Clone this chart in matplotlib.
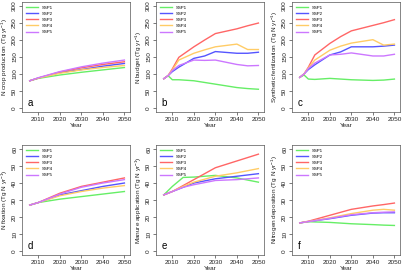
import matplotlib
matplotlib.use("Agg")
import matplotlib.pyplot as plt

plt.rcParams['font.family'] = ['Liberation Sans', 'DejaVu Sans']
plt.rcParams['mathtext.default'] = 'regular'

scenarios = ["SSP1", "SSP2", "SSP3", "SSP4", "SSP5"]
colors = ["#66EE66", "#5555FF", "#FF6666", "#FFCC66", "#CC77FF"]

# Panel a: N crop production
years_a = [2006, 2010, 2020, 2030, 2040, 2050]
crop_ssp1 = [80, 87, 97, 105, 112, 119]
crop_ssp2 = [80, 88, 104, 113, 123, 131]
crop_ssp3 = [80, 88, 106, 118, 128, 136]
crop_ssp4 = [80, 88, 102, 112, 119, 125]
crop_ssp5 = [80, 89, 107, 121, 132, 141]

# Panel b: N budget
years_b = [2006, 2008, 2010, 2013, 2020, 2025, 2030, 2040, 2045, 2050]
budget_ssp1 = [86, 95, 83, 83, 80, 75, 70, 60, 57, 55]
budget_ssp2 = [86, 95, 107, 120, 146, 153, 166, 161, 161, 164]
budget_ssp3 = [86, 95, 115, 149, 180, 200, 219, 233, 242, 250]
budget_ssp4 = [86, 95, 112, 141, 161, 171, 180, 188, 172, 172]
budget_ssp5 = [86, 95, 110, 125, 141, 140, 141, 128, 124, 125]

# Panel c: Synthetic fertilization
years_c = [2006, 2008, 2010, 2013, 2020, 2025, 2030, 2040, 2045, 2050]
fert_ssp1 = [90, 97, 85, 84, 87, 85, 83, 81, 82, 85]
fert_ssp2 = [90, 100, 113, 127, 156, 165, 180, 180, 182, 185]
fert_ssp3 = [90, 100, 120, 156, 190, 210, 227, 243, 251, 260]
fert_ssp4 = [90, 100, 118, 141, 170, 182, 191, 201, 185, 188]
fert_ssp5 = [90, 100, 116, 132, 156, 158, 162, 153, 153, 158]

# Panel d: N fixation
years_d = [2006, 2010, 2020, 2030, 2040, 2050]
fix_ssp1 = [27, 28.5, 30.5, 32, 33.5, 35]
fix_ssp2 = [27, 28.5, 33, 35.5, 38, 40]
fix_ssp3 = [27, 28.5, 34, 38, 40.5, 43]
fix_ssp4 = [27, 28.5, 32.5, 35, 37, 38.5]
fix_ssp5 = [27, 28.5, 33.5, 37.5, 40, 42]

# Panel e: Manure application
years_e = [2006, 2010, 2015, 2020, 2030, 2040, 2050]
man_ssp1 = [33, 38, 43.3, 43.5, 44.5, 43, 40.5]
man_ssp2 = [33, 35, 37.5, 40, 42.5, 44, 45.5]
man_ssp3 = [33, 35, 38.5, 42, 49, 53, 57]
man_ssp4 = [33, 35, 38, 40.5, 44, 46, 48.5]
man_ssp5 = [33, 35, 37.5, 39, 41.5, 42, 43]

# Panel f: Nitrogen deposition
years_f = [2006, 2010, 2020, 2030, 2040, 2045, 2050]
dep_ssp1 = [16.5, 17.2, 16.8, 16, 15.5, 15.2, 15]
dep_ssp2 = [16.5, 17.3, 19, 21, 22.3, 22.5, 22.5]
dep_ssp3 = [16.5, 17.5, 21, 24.5, 26.5, 27.3, 28.2]
dep_ssp4 = [16.5, 17.3, 19.5, 22, 24, 24.5, 24]
dep_ssp5 = [16.5, 17.3, 19.2, 21.3, 22.5, 22.8, 23]

xticks = [2010, 2020, 2030, 2040, 2050]
yticks_top = [0, 50, 100, 150, 200, 250, 300]
yticks_bottom = [0, 10, 20, 30, 40, 50, 60]

panels = [
    ("a", years_a, [crop_ssp1, crop_ssp2, crop_ssp3, crop_ssp4, crop_ssp5],
     "N crop production (Tg yr$^{-1}$)", yticks_top),
    ("b", years_b, [budget_ssp1, budget_ssp2, budget_ssp3, budget_ssp4, budget_ssp5],
     "N budget (Tg yr$^{-1}$)", yticks_top),
    ("c", years_c, [fert_ssp1, fert_ssp2, fert_ssp3, fert_ssp4, fert_ssp5],
     "Synthetic fertilization (Tg N yr$^{-1}$)", yticks_top),
    ("d", years_d, [fix_ssp1, fix_ssp2, fix_ssp3, fix_ssp4, fix_ssp5],
     "N fixation (Tg N yr$^{-1}$)", yticks_bottom),
    ("e", years_e, [man_ssp1, man_ssp2, man_ssp3, man_ssp4, man_ssp5],
     "Manure application (Tg N yr$^{-1}$)", yticks_bottom),
    ("f", years_f, [dep_ssp1, dep_ssp2, dep_ssp3, dep_ssp4, dep_ssp5],
     "Nitrogen deposition (Tg N yr$^{-1}$)", yticks_bottom),
]

W, H = 403, 276
fig = plt.figure(figsize=(W / 100, H / 100), dpi=100)

# axes boxes in pixels: left, top, width, height
lefts = [22, 156, 292]
tops = [2, 145]
bw, bh = 108, 110

fs = 4.6
for i, (letter, yrs, series, ylabel, yt) in enumerate(panels):
    r, c = divmod(i, 3)
    l = lefts[c]
    t = tops[r]
    ax = fig.add_axes([l / W, 1 - (t + bh) / H, bw / W, bh / H])
    for name, col, vals in zip(scenarios, colors, series):
        ax.plot(yrs, vals, color=col, lw=1.0, label=name)
    ax.set_xlim(2002.4, 2052.6)
    top = yt[-1]
    ax.set_ylim(-0.04 * top, top * 1.04)
    ax.set_xticks(xticks)
    ax.set_yticks(yt)
    ax.set_yticklabels([str(v) for v in yt], rotation=90, va='center')
    ax.tick_params(labelsize=fs, length=2, width=0.5, pad=1.5, color='#444444',
                   labelcolor='#222222')
    for s in ax.spines.values():
        s.set_linewidth(0.5)
        s.set_color('#555555')
    ax.set_xlabel("Year", fontsize=fs, labelpad=0.8, color='#222222')
    ax.set_ylabel(ylabel, fontsize=fs, labelpad=1.2, color='#222222')
    ax.text(0.05, 0.04, letter, transform=ax.transAxes, fontsize=7,
            ha='left', va='bottom')
    ax.legend(loc='upper left', frameon=False, fontsize=3.2, handlelength=2.8,
              handletextpad=0.8, labelspacing=0.45, borderaxespad=0.4,
              bbox_to_anchor=(0.0, 1.0))

fig.savefig("out.png", dpi=100)
